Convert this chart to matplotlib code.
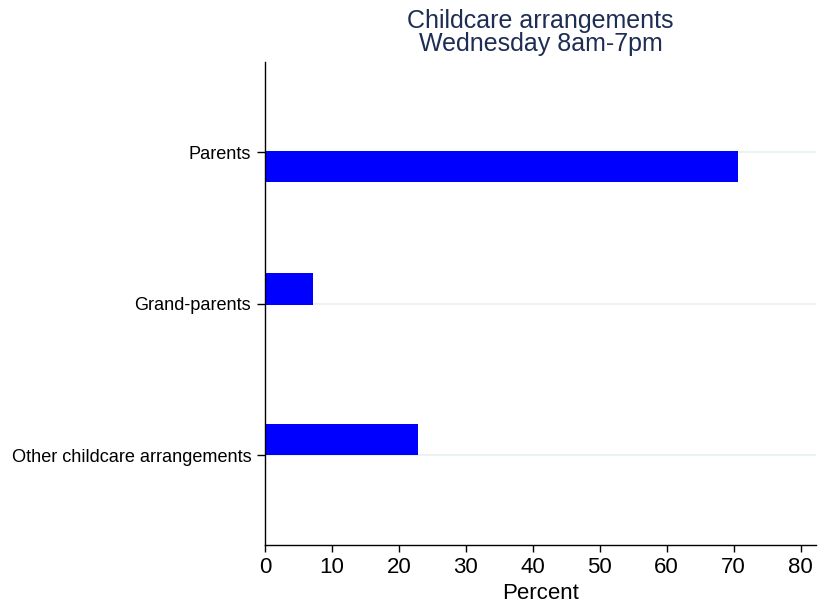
import matplotlib.pyplot as plt

# data
categories = ["Parents", "Grand-parents", "Other childcare arrangements"]
percent = [70.6, 7.2, 22.8]

# bar placement relative to each category tick (in category units)
bar_shift = [0.096, -0.096, -0.10]
bar_h = 0.205

plt.rcParams['font.family'] = ['Liberation Sans', 'DejaVu Sans']

fig = plt.figure(figsize=(8.19, 6.09), dpi=100)
ax = fig.add_axes([0.3236, 0.1051, 0.6727, 0.7929])

pos = list(range(len(categories)))
for p in pos:
    ax.axhline(p, color="#eaf2f3", lw=1.5, zorder=0)

ax.barh([p + s for p, s in zip(pos, bar_shift)], percent, height=bar_h,
        color="#0000ff", zorder=2)

ax.set_ylim(2.594, -0.594)
ax.set_xlim(0, 82.3)
ax.set_yticks(pos)
ax.set_yticklabels(categories, fontsize=13.1)
ax.set_xticks(range(0, 81, 10))
ax.tick_params(axis="x", labelsize=16, length=5, width=1, pad=4)
ax.tick_params(axis="y", length=6, width=1, pad=4)
ax.set_xlabel("Percent", fontsize=16, labelpad=3)

for s in ["top", "right"]:
    ax.spines[s].set_visible(False)
for s in ["left", "bottom"]:
    ax.spines[s].set_linewidth(1)

fig.text(0.66, 0.986, "Childcare arrangements\nWednesday 8am-7pm", ha="center", va="top",
         fontsize=18, color="#1e2d53", linespacing=0.95)

fig.savefig("out.png", dpi=100)
